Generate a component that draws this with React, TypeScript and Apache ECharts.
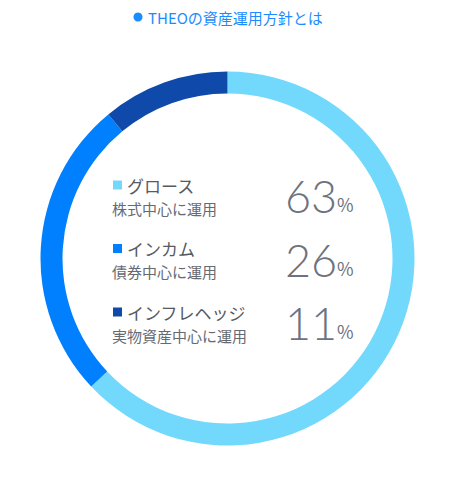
import React, { useEffect, useRef } from "react";
import * as echarts from "echarts";

const titleText = "THEOの資産運用方針とは";
const names = ["グロース", "インカム", "インフレヘッジ"];
const descriptions = ["株式中心に運用", "債券中心に運用", "実物資産中心に運用"];
const values = [63, 26, 11];
const colors = ["#72d9fd", "#0080ff", "#0f4aab"];

export default function App() {
  const ref = useRef<HTMLDivElement>(null);
  useEffect(() => {
    if (!ref.current) return;
    const chart = echarts.init(ref.current, undefined, { renderer: "svg" });
    const font = "'Noto Sans CJK JP', 'Noto Sans', sans-serif";
    const graphics: any[] = [
      {
        type: "circle",
        shape: { cx: 138, cy: 17, r: 4.5 },
        style: { fill: "#1a8cff" },
      },
      {
        type: "text",
        x: 148,
        y: 17,
        style: {
          text: titleText,
          fill: "#1a8cff",
          font: `15px ${font}`,
          verticalAlign: "middle",
        },
      },
    ];
    names.forEach((n, i) => {
      const y0 = 185 + i * 63.5;
      graphics.push(
        {
          type: "rect",
          shape: { x: 113, y: y0 - 4.5, width: 9, height: 9 },
          style: { fill: colors[i] },
        },
        {
          type: "text",
          x: 127,
          y: y0,
          style: { text: n, fill: "#555a63", font: `17px ${font}`, verticalAlign: "middle" },
        },
        {
          type: "text",
          x: 112,
          y: y0 + 23,
          style: { text: descriptions[i], fill: "#666b73", font: `15px ${font}`, verticalAlign: "middle" },
        },
        {
          type: "text",
          x: 285,
          y: y0 + 11,
          style: {
            text: String(values[i]),
            fill: "#6c727f",
            font: `300 45px Lato, 'Noto Sans', sans-serif`,
            verticalAlign: "middle",
          },
        },
        {
          type: "text",
          x: 337,
          y: y0 + 19,
          style: { text: "%", fill: "#6c727f", font: `18px ${font}`, verticalAlign: "middle" },
        }
      );
    });
    chart.setOption({
      animation: false,
      series: [
        {
          type: "pie",
          radius: [165, 187],
          center: [227.5, 258.5],
          startAngle: 90,
          clockwise: true,
          label: { show: false },
          labelLine: { show: false },
          emphasis: { disabled: true },
          itemStyle: { borderWidth: 0 },
          data: names.map((n, i) => ({ name: n, value: values[i], itemStyle: { color: colors[i] } })),
        },
      ],
      graphic: graphics,
    });
    return () => chart.dispose();
  }, []);
  return <div ref={ref} style={{ width: 450, height: 478, position: "absolute", left: 0, top: 0 }} />;
}
